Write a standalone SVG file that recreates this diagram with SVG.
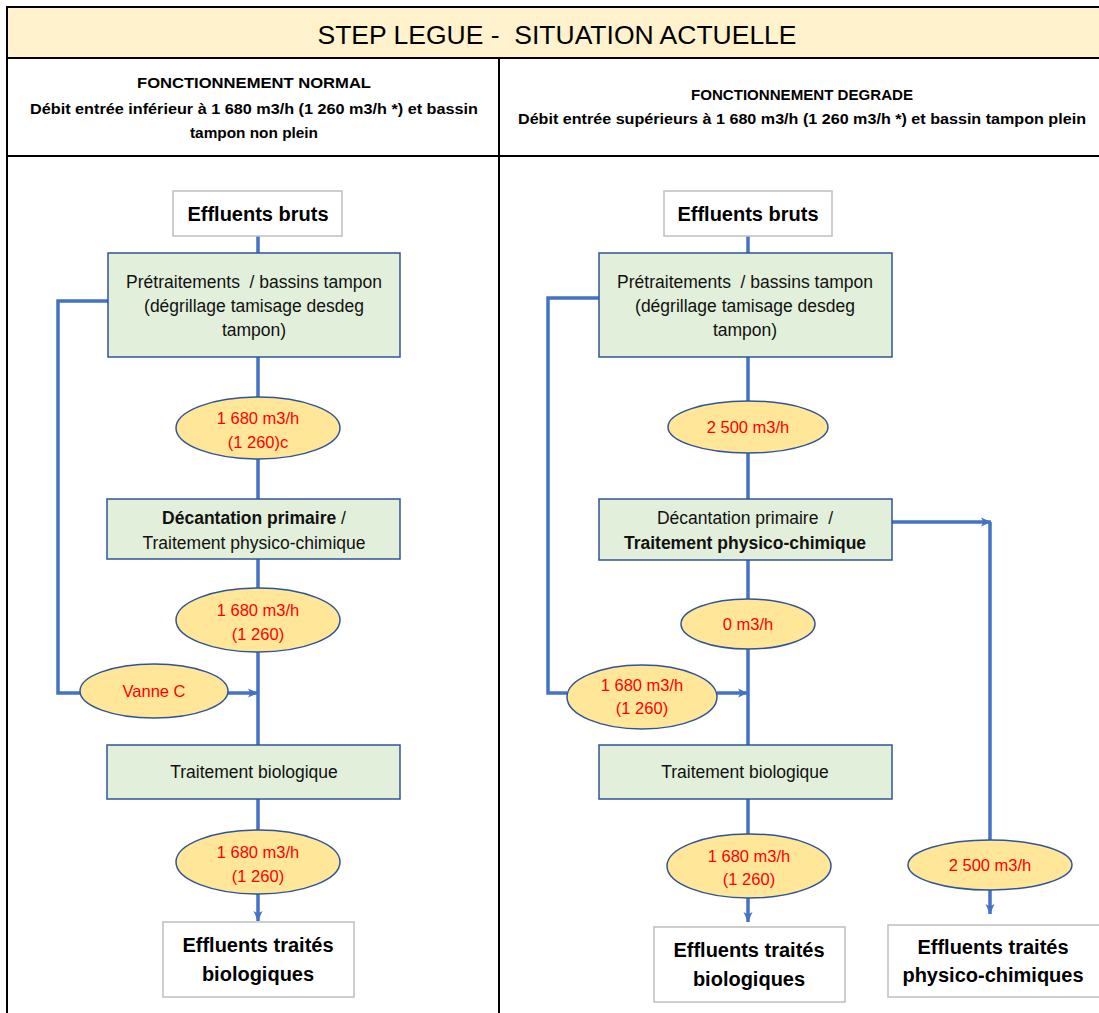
<svg xmlns="http://www.w3.org/2000/svg" width="1099" height="1013" viewBox="0 0 1099 1013">
<style>
text{font-family:"Liberation Sans",Arial,sans-serif;text-anchor:middle;white-space:pre}
.hdr{font-size:14.5px;font-weight:bold;fill:#000}
.big{font-size:20px;font-weight:bold;fill:#000}
.box{font-size:17.5px;fill:#111}
.red{font-size:16.5px;fill:#FF0000}
.proc{fill:#E2EFDA;stroke:#2F5597;stroke-width:1.5}
.term{fill:#FFFFFF;stroke:#BFBFBF;stroke-width:1.5}
.flow{fill:#FFE699;stroke:#2F5597;stroke-width:1.5}
.c{fill:none;stroke:#4472C4;stroke-width:3.5}
</style>
<defs>
<marker id="arr" markerUnits="userSpaceOnUse" markerWidth="12" markerHeight="12" refX="11" refY="6" orient="auto">
<path d="M1,1.5 L11,6 L1,10.5 L3.5,6 Z" fill="#4472C4"/>
</marker>
</defs>
<rect x="0" y="0" width="1099" height="1013" fill="#FFFFFF"/>
<g id="frame">
<rect x="8" y="8" width="1091" height="50" fill="#FFF2CC"/>
<path d="M7,1013 V7 H1099" fill="none" stroke="#000" stroke-width="2"/>
<path d="M7,58 H1099 M7,156 H1099 M499,58 V1013" fill="none" stroke="#000" stroke-width="2"/>
<text x="557" y="44" style="font-size:26.5px;fill:#000">STEP LEGUE -  SITUATION ACTUELLE</text>
<text class="hdr" x="254" y="88" textLength="234" lengthAdjust="spacingAndGlyphs">FONCTIONNEMENT NORMAL</text>
<text class="hdr" x="254" y="114" textLength="448" lengthAdjust="spacingAndGlyphs">Débit entrée inférieur à 1 680 m3/h (1 260 m3/h *) et bassin</text>
<text class="hdr" x="254" y="138" textLength="128" lengthAdjust="spacingAndGlyphs">tampon non plein</text>
<text class="hdr" x="802" y="100" textLength="222" lengthAdjust="spacingAndGlyphs">FONCTIONNEMENT DEGRADE</text>
<text class="hdr" x="802" y="124" textLength="568" lengthAdjust="spacingAndGlyphs">Débit entrée supérieurs à 1 680 m3/h (1 260 m3/h *) et bassin tampon plein</text>
</g>
<g id="connectors">
<path class="c" d="M258,236 V253 M258,357 V397 M258,459 V499 M258,559 V588 M258,652 V745 M258,799 V830"/>
<path class="c" d="M108,301 H58 V693 H80"/>
<path class="c" d="M228,693 H258" marker-end="url(#arr)"/>
<path class="c" d="M258,894 V921" marker-end="url(#arr)"/>
<path class="c" d="M748,236 V253 M748,357 V401 M748,453 V499 M748,560 V599 M748,649 V745 M748,799 V834"/>
<path class="c" d="M599,298 H548 V693 H567"/>
<path class="c" d="M717,693 H748" marker-end="url(#arr)"/>
<path class="c" d="M892,522 H991" marker-end="url(#arr)"/>
<path class="c" d="M990,522 V840"/>
<path class="c" d="M990,890 V914" marker-end="url(#arr)"/>
<path class="c" d="M748,898 V922" marker-end="url(#arr)"/>
</g>
<g id="L-bruts"><rect class="term" x="173" y="191" width="169" height="45"/><text class="big" x="258" y="221">Effluents bruts</text></g>
<g id="L-pretraitement"><rect class="proc" x="108" y="253" width="292" height="104"/>
<text class="box" x="254" y="288">Prétraitements  / bassins tampon</text>
<text class="box" x="254" y="312">(dégrillage tamisage desdeg</text>
<text class="box" x="254" y="336">tampon)</text></g>
<g id="L-q1"><ellipse class="flow" cx="258" cy="428" rx="82" ry="31"/><text class="red" x="258" y="424">1 680 m3/h</text><text class="red" x="258" y="448">(1 260)c</text></g>
<g id="L-decantation"><rect class="proc" x="107" y="499" width="293" height="60"/>
<text class="box" x="254" y="524"><tspan font-weight="bold">Décantation primaire</tspan> /</text>
<text class="box" x="254" y="549">Traitement physico-chimique</text></g>
<g id="L-q2"><ellipse class="flow" cx="258" cy="620" rx="82" ry="32"/><text class="red" x="258" y="616">1 680 m3/h</text><text class="red" x="258" y="640">(1 260)</text></g>
<g id="L-vanne"><ellipse class="flow" cx="154" cy="691" rx="74" ry="27"/><text class="red" x="154" y="697">Vanne C</text></g>
<g id="L-bio"><rect class="proc" x="107" y="745" width="293" height="54"/><text class="box" x="254" y="778">Traitement biologique</text></g>
<g id="L-q3"><ellipse class="flow" cx="258" cy="862" rx="82" ry="32"/><text class="red" x="258" y="858">1 680 m3/h</text><text class="red" x="258" y="882">(1 260)</text></g>
<g id="L-traites"><rect class="term" x="163" y="922" width="191" height="75"/><text class="big" x="258" y="952">Effluents traités</text><text class="big" x="258" y="981">biologiques</text></g>
<g id="R-bruts"><rect class="term" x="664" y="191" width="168" height="45"/><text class="big" x="748" y="221">Effluents bruts</text></g>
<g id="R-pretraitement"><rect class="proc" x="599" y="253" width="293" height="104"/>
<text class="box" x="745" y="288">Prétraitements  / bassins tampon</text>
<text class="box" x="745" y="312">(dégrillage tamisage desdeg</text>
<text class="box" x="745" y="336">tampon)</text></g>
<g id="R-q1"><ellipse class="flow" cx="748" cy="427" rx="80" ry="26"/><text class="red" x="748" y="433">2 500 m3/h</text></g>
<g id="R-decantation"><rect class="proc" x="599" y="499" width="293" height="61"/>
<text class="box" x="745" y="524">Décantation primaire  /</text>
<text class="box" x="745" y="549" font-weight="bold">Traitement physico-chimique</text></g>
<g id="R-q2"><ellipse class="flow" cx="748" cy="624" rx="67" ry="25"/><text class="red" x="748" y="630">0 m3/h</text></g>
<g id="R-bypass"><ellipse class="flow" cx="642" cy="697" rx="75" ry="32"/><text class="red" x="642" y="691">1 680 m3/h</text><text class="red" x="642" y="714">(1 260)</text></g>
<g id="R-bio"><rect class="proc" x="599" y="745" width="293" height="54"/><text class="box" x="745" y="778">Traitement biologique</text></g>
<g id="R-q3"><ellipse class="flow" cx="749" cy="866" rx="82" ry="32"/><text class="red" x="749" y="862">1 680 m3/h</text><text class="red" x="749" y="885">(1 260)</text></g>
<g id="R-q4"><ellipse class="flow" cx="990" cy="865" rx="82" ry="25"/><text class="red" x="990" y="871">2 500 m3/h</text></g>
<g id="R-traites-bio"><rect class="term" x="654" y="927" width="191" height="75"/><text class="big" x="749" y="957">Effluents traités</text><text class="big" x="749" y="986">biologiques</text></g>
<g id="R-traites-pc"><rect class="term" x="888" y="925" width="215" height="72"/><text class="big" x="993" y="954">Effluents traités</text><text class="big" x="993" y="982">physico-chimiques</text></g>
</svg>
